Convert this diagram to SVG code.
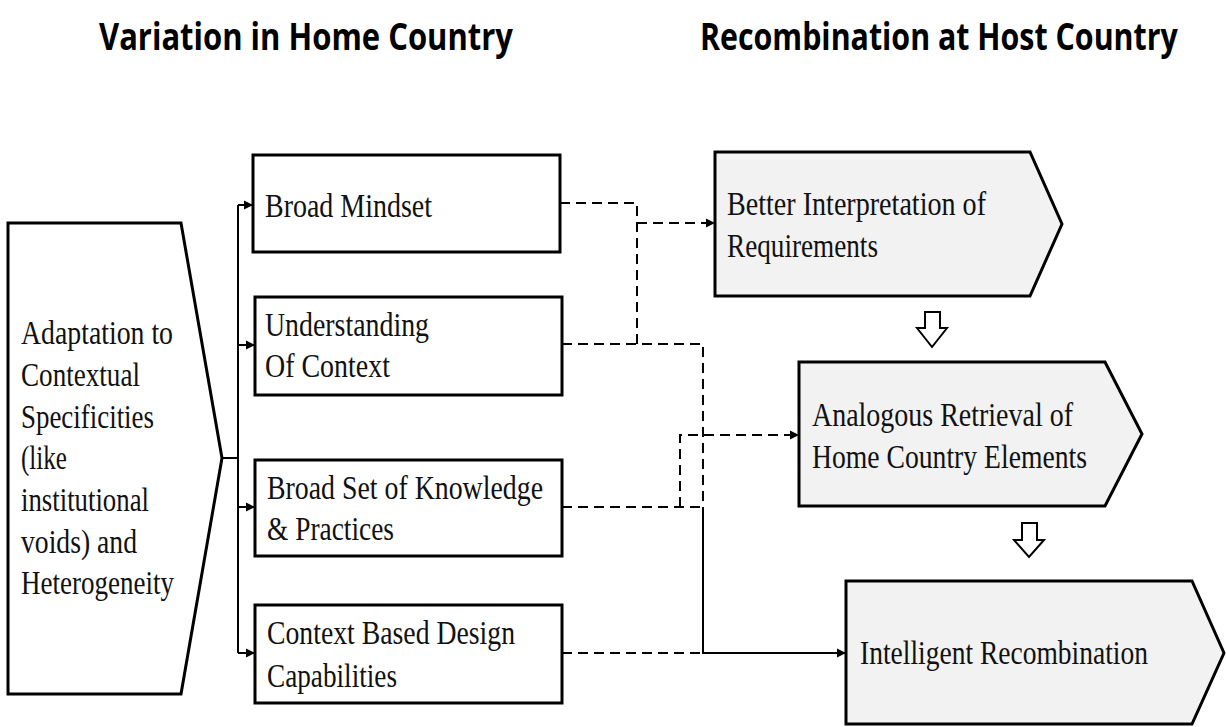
<svg xmlns="http://www.w3.org/2000/svg" width="1226" height="727" viewBox="0 0 1226 727">
  <style>
    .title { font-family: "Open Sans", "Liberation Sans", sans-serif; font-weight: bold; font-size: 38px; fill: #000; }
    .lbl { font-family: "Liberation Serif", "Times New Roman", serif; font-size: 33px; fill: #111; }
    .box { fill: #fff; stroke: #000; stroke-width: 3; }
    .pent { fill: #f2f2f2; stroke: #000; stroke-width: 3; stroke-linejoin: miter; }
    .solid { fill: none; stroke: #000; stroke-width: 2; }
    .dash { fill: none; stroke: #000; stroke-width: 2; stroke-dasharray: 10 6; }
    .hollow { fill: #fff; stroke: #000; stroke-width: 2; stroke-linejoin: miter; }
  </style>
  <defs>
    <marker id="tip" viewBox="0 0 10 10" refX="10" refY="5" markerWidth="9" markerHeight="10" markerUnits="userSpaceOnUse" orient="auto">
      <path d="M0,0 L10,5 L0,10 Z" fill="#000"/>
    </marker>
  </defs>

  <rect width="1226" height="727" fill="#fff"/>

  <!-- column headings (narrowed horizontally) -->
  <g transform="translate(99,50) scale(0.75,1)">
    <text class="title" x="0" y="0" textLength="552" lengthAdjust="spacingAndGlyphs">Variation in Home Country</text>
  </g>
  <g transform="translate(700,50) scale(0.75,1)">
    <text class="title" x="0" y="0" textLength="637" lengthAdjust="spacingAndGlyphs">Recombination at Host Country</text>
  </g>

  <!-- connectors -->
  <g id="connectors">
    <!-- fan-out from the source shape -->
    <path class="solid" d="M222,458 H238 M238,205 V653"/>
    <path class="solid" d="M238,205 H253" marker-end="url(#tip)"/>
    <path class="solid" d="M238,345 H255" marker-end="url(#tip)"/>
    <path class="solid" d="M238,507 H255" marker-end="url(#tip)"/>
    <path class="solid" d="M238,653 H255" marker-end="url(#tip)"/>

    <!-- links towards the host-country stages -->
    <path class="dash" d="M560,203 H637 V344"/>
    <path class="dash" d="M637,223 H715" marker-end="url(#tip)"/>
    <path class="dash" d="M562,344 H703 V507"/>
    <path class="dash" d="M562,507 H703"/>
    <path class="dash" d="M680,507 V435 H799" marker-end="url(#tip)"/>
    <path class="dash" d="M562,653 H703"/>
    <path class="solid" d="M703,507 V653 H846" marker-end="url(#tip)"/>

    <!-- hollow step arrows -->
    <path class="hollow" d="M925,312 H940 V328 H947 L932,347 L917,328 H925 Z"/>
    <path class="hollow" d="M1022,523 H1037 V540 H1044 L1029,557 L1014,540 H1022 Z"/>
  </g>

  <!-- source shape -->
  <g id="adaptation">
    <path class="box" d="M8,223 H181 L222,458 L181,694 H8 Z"/>
    <text class="lbl" x="21" y="344" textLength="152" lengthAdjust="spacingAndGlyphs">Adaptation to</text>
    <text class="lbl" x="21" y="386" textLength="119" lengthAdjust="spacingAndGlyphs">Contextual</text>
    <text class="lbl" x="21" y="428" textLength="133" lengthAdjust="spacingAndGlyphs">Specificities</text>
    <text class="lbl" x="21" y="469" textLength="46" lengthAdjust="spacingAndGlyphs">(like</text>
    <text class="lbl" x="21" y="511" textLength="128" lengthAdjust="spacingAndGlyphs">institutional</text>
    <text class="lbl" x="21" y="553" textLength="116" lengthAdjust="spacingAndGlyphs">voids) and</text>
    <text class="lbl" x="21" y="594" textLength="153" lengthAdjust="spacingAndGlyphs">Heterogeneity</text>
  </g>

  <!-- home-country boxes -->
  <g id="broad-mindset">
    <rect class="box" x="253" y="155" width="307" height="97"/>
    <text class="lbl" x="265" y="217" textLength="167" lengthAdjust="spacingAndGlyphs">Broad Mindset</text>
  </g>
  <g id="understanding-context">
    <rect class="box" x="255" y="297" width="307" height="98"/>
    <text class="lbl" x="265" y="336" textLength="164" lengthAdjust="spacingAndGlyphs">Understanding</text>
    <text class="lbl" x="265" y="377" textLength="125" lengthAdjust="spacingAndGlyphs">Of Context</text>
  </g>
  <g id="knowledge-practices">
    <rect class="box" x="255" y="460" width="307" height="96"/>
    <text class="lbl" x="267" y="499" textLength="276" lengthAdjust="spacingAndGlyphs">Broad Set of Knowledge</text>
    <text class="lbl" x="267" y="540" textLength="127" lengthAdjust="spacingAndGlyphs">&amp; Practices</text>
  </g>
  <g id="design-capabilities">
    <rect class="box" x="255" y="605" width="307" height="98"/>
    <text class="lbl" x="267" y="644" textLength="248" lengthAdjust="spacingAndGlyphs">Context Based Design</text>
    <text class="lbl" x="267" y="687" textLength="130" lengthAdjust="spacingAndGlyphs">Capabilities</text>
  </g>

  <!-- host-country stages -->
  <g id="interpretation">
    <path class="pent" d="M715,152 H1030 L1062,224 L1030,296 H715 Z"/>
    <text class="lbl" x="727" y="215" textLength="259" lengthAdjust="spacingAndGlyphs">Better Interpretation of</text>
    <text class="lbl" x="727" y="257" textLength="151" lengthAdjust="spacingAndGlyphs">Requirements</text>
  </g>
  <g id="analogous-retrieval">
    <path class="pent" d="M799,362 H1105 L1142,434 L1105,506 H799 Z"/>
    <text class="lbl" x="812" y="426" textLength="261" lengthAdjust="spacingAndGlyphs">Analogous Retrieval of</text>
    <text class="lbl" x="812" y="468" textLength="275" lengthAdjust="spacingAndGlyphs">Home Country Elements</text>
  </g>
  <g id="intelligent-recombination">
    <path class="pent" d="M846,581 H1192 L1224,653 L1192,724 H846 Z"/>
    <text class="lbl" x="860" y="664" textLength="288" lengthAdjust="spacingAndGlyphs">Intelligent Recombination</text>
  </g>
</svg>
